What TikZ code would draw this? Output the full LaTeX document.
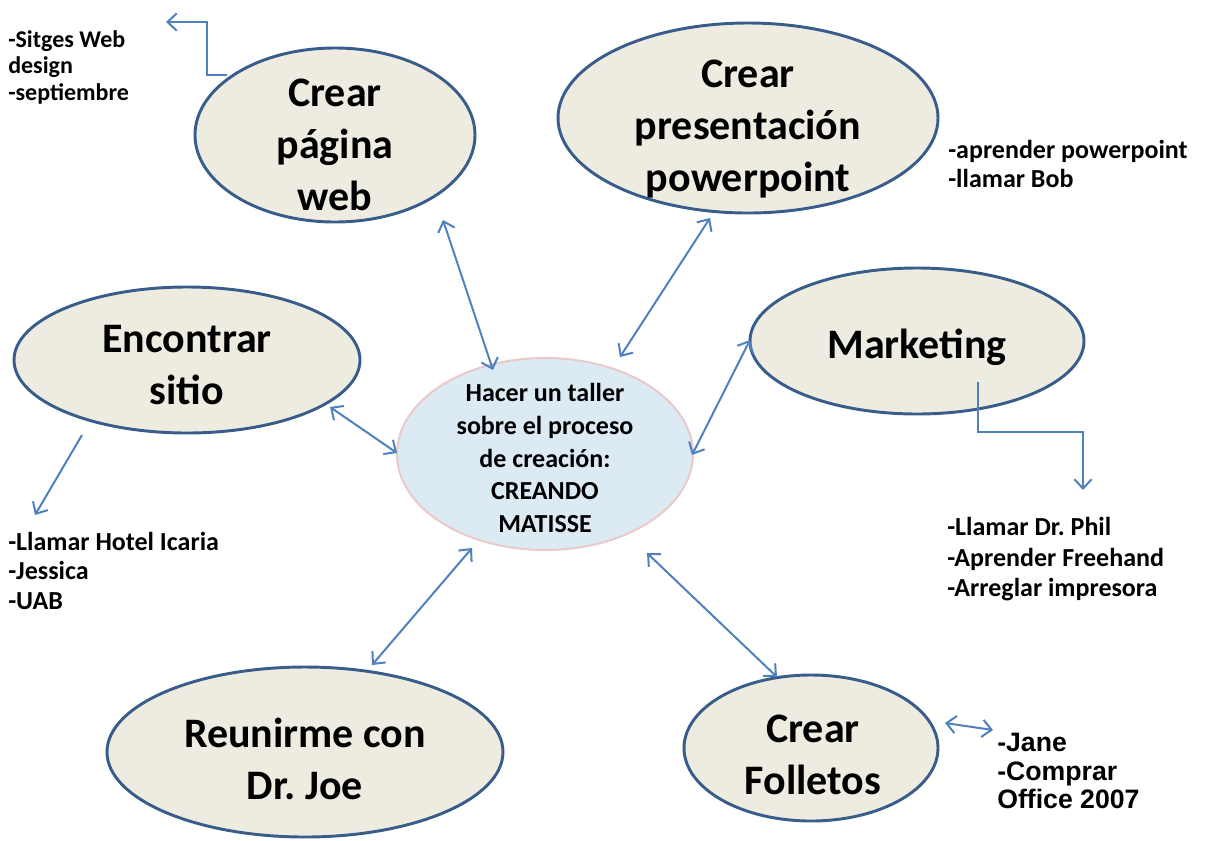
\documentclass[tikz,border=0pt]{standalone}
\usepackage{fontspec}
\setmainfont{Carlito}
\newfontfamily\arialfont{Liberation Sans}
\usetikzlibrary{shapes.geometric,arrows.meta,calc}
\definecolor{ovalfill}{HTML}{EEECE1}
\definecolor{ovalline}{HTML}{385D8A}
\definecolor{flecha}{HTML}{4F81BD}
\definecolor{centrofill}{HTML}{DCEAF4}
\definecolor{centroline}{HTML}{EBC9C8}
\frenchspacing

\begin{document}
\begin{tikzpicture}[x=0.75pt,y=0.75pt,yscale=-1,
  tarea/.style={ellipse, draw=ovalline, line width=2.2pt, fill=ovalfill, inner sep=0pt},
  tareatxt/.style={align=center, inner sep=0pt, font=\fontsize{31.5}{39}\selectfont\bfseries},
  nota/.style={anchor=north west, align=left, inner sep=0pt, font=\fontsize{19.5}{22}\selectfont\bfseries},
  biarrow/.style={draw=flecha, line width=1.5pt, {Straight Barb[length=7pt,width=13pt]}-{Straight Barb[length=7pt,width=13pt]}},
  onearrow/.style={draw=flecha, line width=1.5pt, -{Straight Barb[length=7pt,width=13pt]}}]
\useasboundingbox (0,0) rectangle (1205,840);

%Shape: Ellipse
\node [tarea, minimum width=210pt, minimum height=130.5pt] (web) at (335,135) {};
%Shape: Ellipse
\node [tarea, minimum width=285pt, minimum height=142.5pt] (ppt) at (748,118) {};
%Shape: Ellipse
\node [tarea, minimum width=259.5pt, minimum height=109.5pt] (sitio) at (187,360) {};
%Shape: Ellipse
\node [tarea, minimum width=250.5pt, minimum height=109.5pt] (mkt) at (917,341) {};
%Shape: Ellipse
\node [ellipse, draw=centroline, line width=1.5pt, fill=centrofill, inner sep=0pt, minimum width=222pt, minimum height=144pt] (centro) at (545,454) {};
%Shape: Ellipse
\node [tarea, minimum width=297pt, minimum height=127.5pt] (joe) at (305,752) {};
%Shape: Ellipse
\node [tarea, minimum width=190.5pt, minimum height=109.5pt] (foll) at (811,748) {};

% Text Node
\node [tareatxt] (webtxt) at (335,145) {Crear\\página\\web};
% Text Node
\node [tareatxt] (ppttxt) at (748,129) {Crear\\presentación\\powerpoint};
% Text Node
\node [tareatxt] (sitiotxt) at (187,365) {Encontrar\\sitio};
% Text Node
\node [tareatxt] (mkttxt) at (917,347) {Marketing};
% Text Node
\node [tareatxt] (joetxt) at (305,759) {Reunirme con\\Dr. Joe};
% Text Node
\node [tareatxt] (folltxt) at (813,755) {Crear\\Folletos};
% Text Node
\node [tareatxt, font=\fontsize{19.5}{24.5}\selectfont\bfseries] (centrotxt) at (545,458) {Hacer un taller\\sobre el proceso\\de creación:\\CREANDO\\MATISSE};

% Text Node
\node [nota, font=\fontsize{18}{20}\selectfont\bfseries] (sitges) at (8,30) {-Sitges Web\\design\\-septiembre};
% Text Node
\node [nota] (bob) at (948,140) {-aprender powerpoint\\-llamar Bob};
% Text Node
\node [nota] (hotel) at (8,532) {-Llamar Hotel Icaria\\-Jessica\\-UAB};
% Text Node
\node [nota, font=\fontsize{19.5}{23}\selectfont\bfseries] (phil) at (947,517) {-Llamar Dr. Phil\\-Aprender Freehand\\-Arreglar impresora};
% Text Node
\node [nota, font=\arialfont\fontsize{20}{21.5}\selectfont\bfseries] (jane) at (997,733) {-Jane\\-Comprar\\Office 2007};

%Straight Lines
\draw [biarrow] ($(web.center)+(108,85)$) -- ($(centro.center)+(-52,-84)$);
\draw [biarrow] ($(ppt.center)+(-38,100)$) -- ($(centro.center)+(75,-97)$);
\draw [biarrow] ($(sitio.center)+(143,47)$) -- ($(centro.center)+(-148,-1)$);
\draw [biarrow] ($(mkt.center)+(-167,-1)$) -- ($(centro.center)+(147,1)$);
\draw [biarrow] ($(joe.center)+(67,-87)$) -- ($(centro.center)+(-73,94)$);
\draw [biarrow] ($(foll.center)+(-34,-71)$) -- ($(centro.center)+(102,99)$);
\draw [biarrow] ($(foll.center)+(134,-25)$) -- ($(jane.north west)+(-4,-3)$);

%Elbow Lines
\draw [onearrow] (web.center) ++(-108,-60) -| ++(-20,-53) -- ++(-41,0);
\draw [onearrow] (sitio.center) ++(-105,75) -- ++(-47,80);
\draw [onearrow] (mkt.center) ++(61,41) |- ++(105,50) -- ++(0,58);

\end{tikzpicture}
\end{document}
